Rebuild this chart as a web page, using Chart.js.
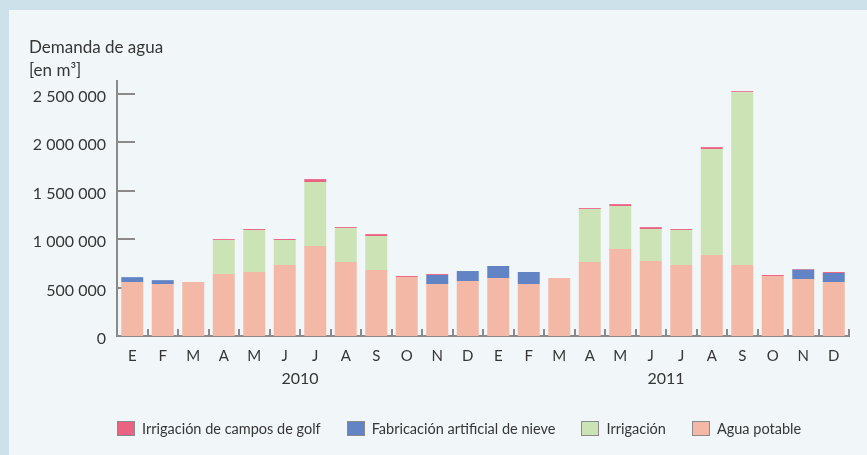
<!DOCTYPE html>
<html>
<head>
<meta charset="utf-8">
<script src="https://cdn.jsdelivr.net/npm/chart.js@4"></script>
<style>
  html, body { margin: 0; padding: 0; }
  body { width: 867px; height: 455px; background: #cde1eb; position: relative; overflow: hidden; font-family: Lato, sans-serif; color: #363636; }
  #panel { position: absolute; left: 9px; top: 10px; width: 858px; height: 445px; background: #f1f6f9; }
  #chart { position: absolute; left: 0; top: 0; }
  #title { position: absolute; left: 20px; top: 25px; font-size: 17px; line-height: 23px; }
  #legend { position: absolute; left: 108px; top: 410px; display: flex; align-items: center; font-size: 14.5px; white-space: nowrap; }
  .item { display: flex; align-items: center; margin-right: 26px; flex-shrink: 0; }
  .box { width: 16px; height: 13px; border: 1.5px solid #8a8a8a; margin-right: 7px; flex-shrink: 0; }
</style>
</head>
<body>
<div id="panel">
  <canvas id="chart" width="858" height="445"></canvas>
  <div id="title">Demanda de agua<br>[en m³]</div>
  <div id="legend"></div>
</div>
<script>
// Categories
const months = ["E", "F", "M", "A", "M", "J", "J", "A", "S", "O", "N", "D",
                "E", "F", "M", "A", "M", "J", "J", "A", "S", "O", "N", "D"];
const years = ["2010", "2011"];

// Series values (m3)
const aguaPotable = [557000, 536000, 556000, 639000, 660000, 732000, 928000, 763000, 680000, 608000, 536000, 567000,
                     598000, 536000, 598000, 763000, 897000, 773000, 732000, 835000, 732000, 619000, 588000, 557000];
const nieve = [50000, 40000, 0, 0, 0, 0, 0, 0, 0, 0, 93000, 103000,
               124000, 124000, 0, 0, 0, 0, 0, 0, 0, 0, 96000, 93000];
const irrigacion = [0, 0, 0, 350000, 433000, 258000, 660000, 350000, 351000, 0, 0, 0,
                    0, 0, 0, 546000, 443000, 330000, 361000, 1093000, 1783000, 0, 0, 0];
const golf = [0, 0, 0, 10000, 10000, 10000, 30000, 10000, 20000, 10000, 10000, 0,
              0, 0, 0, 10000, 20000, 20000, 10000, 20000, 10000, 10000, 7000, 10000];

const yTicks = [0, 500000, 1000000, 1500000, 2000000, 2500000];

const axisColor = "#8a8a8a";
const textColor = "#363636";

// Legend order as in the picture
const legendItems = [
    { label: "Irrigación de campos de golf", color: "#ec6282" },
    { label: "Fabricación artificial de nieve", color: "#6283c4" },
    { label: "Irrigación", color: "#cbe3b5" },
    { label: "Agua potable", color: "#f3b9a6" },
];

// Formats 2500000 as "2 500 000"
function formatNumber(value) {
    return value.toString().replace(/\B(?=(\d{3})+(?!\d))/g, " ");
}

// Draws the little inward ticks and the year labels
const axisExtras = {
    id: "axisExtras",
    beforeDatasetsDraw(chart) {
        const { ctx, chartArea, scales } = chart;
        ctx.save();
        ctx.strokeStyle = axisColor;
        ctx.lineWidth = 2;
        // y ticks pointing into the plot
        yTicks.forEach(v => {
            if (v === 0) return;
            const y = Math.round(scales.y.getPixelForValue(v));
            ctx.beginPath();
            ctx.moveTo(chartArea.left, y);
            ctx.lineTo(chartArea.left + 18, y);
            ctx.stroke();
        });
        // x ticks between the months
        for (let i = 1; i <= months.length; i++) {
            const x = Math.round(scales.x.getPixelForValue(i - 0.5));
            ctx.beginPath();
            ctx.moveTo(x, chartArea.bottom);
            ctx.lineTo(x, chartArea.bottom - 7);
            ctx.stroke();
        }
        ctx.restore();
    },
    afterDraw(chart) {
        const { ctx, chartArea, scales } = chart;
        ctx.save();
        ctx.fillStyle = textColor;
        ctx.font = "16px Lato";
        ctx.textAlign = "center";
        ctx.textBaseline = "middle";
        years.forEach((year, k) => {
            const x = scales.x.getPixelForValue(k * 12 + 5.5);
            ctx.fillText(year, x, chartArea.bottom + 43);
        });
        ctx.restore();
    }
};

const ctx = document.querySelector("#chart");

let demandChart = new Chart(ctx, {
    type: "bar",
    data: {
        labels: months,
        datasets: [
            { label: "Agua potable", data: aguaPotable, backgroundColor: "#f3b9a6" },
            { label: "Fabricación artificial de nieve", data: nieve, backgroundColor: "#6283c4" },
            { label: "Irrigación", data: irrigacion, backgroundColor: "#cbe3b5" },
            { label: "Irrigación de campos de golf", data: golf, backgroundColor: "#ec6282" },
        ]
    },
    options: {
        responsive: false,
        animation: false,
        layout: { padding: { top: 71, right: 18, left: 0, bottom: 0 } },
        datasets: {
            bar: { categoryPercentage: 1, barPercentage: 0.72, borderWidth: 0 }
        },
        plugins: {
            legend: { display: false },
            tooltip: { enabled: false },
        },
        scales: {
            x: {
                stacked: true,
                offset: true,
                grid: { display: false, drawTicks: false },
                border: { display: true, color: axisColor, width: 2 },
                afterFit: scale => { scale.height = 119; },
                ticks: {
                    color: textColor,
                    font: { family: "Lato", size: 15 },
                    padding: 11,
                    maxRotation: 0,
                    autoSkip: false,
                }
            },
            y: {
                stacked: true,
                min: 0,
                max: 2630000,
                grid: { display: false, drawTicks: false },
                border: { display: true, color: axisColor, width: 2 },
                afterFit: scale => { scale.width = 108; },
                afterBuildTicks: scale => {
                    scale.ticks = yTicks.map(v => ({ value: v }));
                },
                ticks: {
                    color: textColor,
                    font: { family: "Lato", size: 16 },
                    padding: 11,
                    labelOffset: 3,
                    callback: value => formatNumber(value)
                }
            }
        }
    },
    plugins: [axisExtras]
});

// Plain legend below the chart
const legend = document.querySelector("#legend");
legendItems.forEach(item => {
    legend.innerHTML += `<div class="item"><span class="box" style="background:${item.color}"></span>${item.label}</div>`;
});
</script>
</body>
</html>
